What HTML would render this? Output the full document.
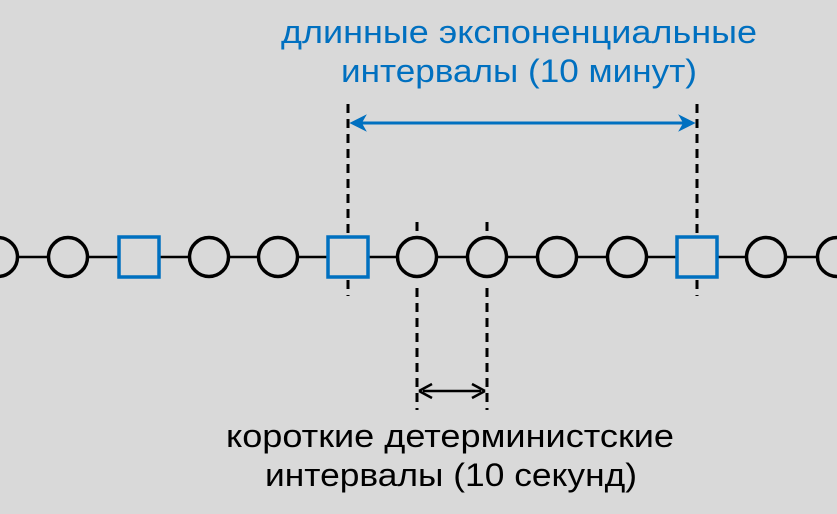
<!DOCTYPE html>
<html><head><meta charset="utf-8"><style>html,body{margin:0;padding:0;background:#d9d9d9}svg{display:block}</style></head>
<body>
<svg width="837" height="514" viewBox="0 0 837 514" xmlns="http://www.w3.org/2000/svg">
<rect width="837" height="514" fill="#d9d9d9"/>
<g stroke="#000" stroke-width="3" stroke-dasharray="9,6" fill="none">
<line x1="348" y1="104" x2="348" y2="236"/>
<line x1="348" y1="280" x2="348" y2="296"/>
<line x1="697" y1="104" x2="697" y2="236"/>
<line x1="697" y1="280" x2="697" y2="296"/>
<line x1="417" y1="222" x2="417" y2="234"/>
<line x1="417" y1="288" x2="417" y2="410"/>
<line x1="487" y1="222" x2="487" y2="234"/>
<line x1="487" y1="288" x2="487" y2="410"/>
</g>
<line x1="0" y1="257" x2="837" y2="257" stroke="#000" stroke-width="2.5"/>
<g fill="#d9d9d9" stroke="#000" stroke-width="3.5">
<circle cx="-2" cy="257" r="19.5"/>
<circle cx="68" cy="257" r="19.5"/>
<circle cx="209" cy="257" r="19.5"/>
<circle cx="278" cy="257" r="19.5"/>
<circle cx="417" cy="257" r="19.5"/>
<circle cx="487" cy="257" r="19.5"/>
<circle cx="557" cy="257" r="19.5"/>
<circle cx="627" cy="257" r="19.5"/>
<circle cx="766" cy="257" r="19.5"/>
<circle cx="837" cy="257" r="19.5"/>
</g>
<g fill="#d9d9d9" stroke="#0070c0" stroke-width="3.5">
<rect x="119" y="237" width="40" height="40"/>
<rect x="328" y="237" width="40" height="40"/>
<rect x="677" y="237" width="40" height="40"/>
</g>
<line x1="356" y1="123" x2="689" y2="123" stroke="#0070c0" stroke-width="3"/>
<path d="M351 123 L365 116 L361 123 L365 130 Z" fill="#0070c0" stroke="#0070c0" stroke-width="1.5"/>
<path d="M694 123 L680 116 L684 123 L680 130 Z" fill="#0070c0" stroke="#0070c0" stroke-width="1.5"/>
<line x1="423" y1="391" x2="481" y2="391" stroke="#000" stroke-width="2.5"/>
<path d="M419 391 L432 384 M419 391 L432 398" stroke="#000" stroke-width="2.5" fill="none"/>
<path d="M485 391 L472 384 M485 391 L472 398" stroke="#000" stroke-width="2.5" fill="none"/>
<g font-family="'Liberation Sans', sans-serif" font-size="32">
<text x="281" y="43" fill="#0070c0" textLength="476" lengthAdjust="spacingAndGlyphs">длинные экспоненциальные</text>
<text x="341" y="82" fill="#0070c0" textLength="356" lengthAdjust="spacingAndGlyphs">интервалы (10 минут)</text>
<text x="226" y="447" fill="#000" textLength="448" lengthAdjust="spacingAndGlyphs">короткие детерминистские</text>
<text x="265" y="486" fill="#000" textLength="372" lengthAdjust="spacingAndGlyphs">интервалы (10 секунд)</text>
</g>
</svg>
</body></html>
